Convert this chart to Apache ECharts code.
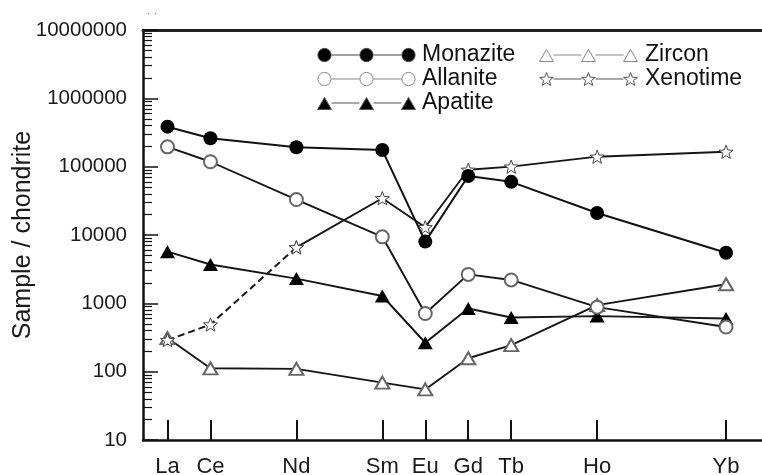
<!DOCTYPE html>
<html>
<head>
<meta charset="utf-8">
<script src="https://cdn.jsdelivr.net/npm/echarts@6/dist/echarts.min.js"></script>
<style>
  html, body { margin: 0; padding: 0; background: #fff; }
  #chart { width: 762px; height: 475px; }
</style>
</head>
<body>
<div id="chart"></div>
<script>
// ---- Data ----
const elements = ['La', 'Ce', 'Nd', 'Sm', 'Eu', 'Gd', 'Tb', 'Ho', 'Yb'];
const atomicNumbers = [57, 58, 60, 62, 63, 64, 65, 67, 70];
const yTickValues = [10, 100, 1000, 10000, 100000, 1000000, 10000000];

const monazite = [385000, 260000, 192000, 175000, 8000, 73000, 60000, 21000, 5500];
const allanite = [195000, 118000, 33000, 9400, 710, 2650, 2200, 880, 450];
const apatite  = [5700, 3700, 2300, 1280, 265, 840, 620, 650, 600];
const zircon   = [310, 112, 110, 69, 55, 157, 245, 940, 1900];
const xenotime = [290, 490, 6600, 34500, 13000, 90000, 100000, 140000, 165000];
// Xenotime is drawn dashed from La to Nd, solid from Nd onwards
const xenotimeDashEnd = 3;   // La, Ce, Nd
const xenotimeSolidStart = 2; // from Nd

const FONT = 'Liberation Sans, Arial, Helvetica, sans-serif';

function pairs(values, from, to) {
  const out = [];
  for (let i = from; i < to; i++) out.push([atomicNumbers[i], values[i]]);
  return out;
}

const zToName = {};
atomicNumbers.forEach((z, i) => { zToName[z] = elements[i]; });

// minor ticks for log axis (2..9 within each decade), expressed in log10 units
const minorTickLogs = [];
for (let n = 1; n < 7; n++) {
  for (let k = 2; k <= 9; k++) minorTickLogs.push(n + Math.log10(k));
}

// ---- symbol / legend path helpers ----
function circlePath(cx, cy, r) {
  return `M${cx - r} ${cy}A${r} ${r} 0 1 1 ${cx + r} ${cy}A${r} ${r} 0 1 1 ${cx - r} ${cy}Z`;
}
function trianglePath(cx, cy, w, h) {
  return `M${cx} ${cy - h / 2}L${cx + w / 2} ${cy + h / 2}L${cx - w / 2} ${cy + h / 2}Z`;
}
function starPath(cx, cy, R) {
  const r = R * 0.42;
  let d = '';
  for (let i = 0; i < 10; i++) {
    const a = (-90 + i * 36) * Math.PI / 180;
    const rr = i % 2 === 0 ? R : r;
    const x = (cx + rr * Math.cos(a)).toFixed(3);
    const y = (cy + rr * Math.sin(a)).toFixed(3);
    d += (i === 0 ? 'M' : 'L') + x + ' ' + y;
  }
  return d + 'Z';
}
const STAR_SYMBOL = 'path://' + starPath(10, 10, 10);

function legendIcon(kind) {
  const cxs = [7, 49, 91];
  const cy = 7, s = 14;
  let d = 'M0 0M98 14';
  cxs.forEach((cx) => {
    if (kind === 'circle') d += circlePath(cx, cy, 6.6);
    else if (kind === 'triangle') d += trianglePath(cx, cy + 0.5, 14, 12);
    else if (kind === 'star') {
      const R = 7.2;
      d += starPath(cx, cy + 0.09 * R, R);
    }
  });
  for (let i = 0; i < 2; i++) {
    d += `M${cxs[i] + s / 2} ${cy}L${cxs[i + 1] - s / 2} ${cy}`;
  }
  return 'path://' + d;
}

const chart = echarts.init(document.getElementById('chart'), null, { renderer: 'canvas' });

const lineBase = { color: '#151515', width: 1.9 };

const option = {
  animation: false,
  backgroundColor: '#fff',
  title: {
    text: '\u02D9 \u02D9',
    left: 142, top: 8,
    textStyle: { fontSize: 12, color: '#777', fontWeight: 'normal', fontFamily: FONT }
  },
  grid: { left: 143, right: -7, top: 30, bottom: 35, containLabel: false, outerBoundsMode: 'none' },
  legend: [
    {
      orient: 'vertical', left: 317, top: 43, padding: 0, itemGap: 0,
      itemWidth: 101, itemHeight: 14, selectedMode: false,
      textStyle: { fontSize: 23, lineHeight: 24, color: '#111', fontFamily: FONT },
      data: [
        { name: 'Monazite', icon: legendIcon('circle'), itemStyle: { color: '#000', borderColor: '#444', borderWidth: 1 } },
        { name: 'Allanite', icon: legendIcon('circle'), itemStyle: { color: '#fff', borderColor: '#888', borderWidth: 1 } },
        { name: 'Apatite', icon: legendIcon('triangle'), itemStyle: { color: '#000', borderColor: '#555', borderWidth: 1 } }
      ]
    },
    {
      orient: 'vertical', left: 539, top: 43, padding: 0, itemGap: 0,
      itemWidth: 103, itemHeight: 14, selectedMode: false,
      textStyle: { fontSize: 23, lineHeight: 24, color: '#111', fontFamily: FONT },
      data: [
        { name: 'Zircon', icon: legendIcon('triangle'), itemStyle: { color: '#fff', borderColor: '#888', borderWidth: 1 } },
        { name: 'Xenotime', icon: legendIcon('star'), itemStyle: { color: '#fff', borderColor: '#555', borderWidth: 1 } }
      ]
    }
  ],
  xAxis: [
    {
      type: 'value', min: 56.43, max: 71, position: 'bottom',
      axisLine: { onZero: false, lineStyle: { color: '#111', width: 2.5 } },
      axisTick: { inside: true, length: 20, customValues: atomicNumbers, lineStyle: { color: '#111', width: 2 } },
      axisLabel: {
        customValues: atomicNumbers, margin: 16, fontSize: 22, color: '#1a1a1a', fontFamily: FONT,
        formatter: (v) => zToName[Math.round(v)] || ''
      },
      splitLine: { show: false }
    },
    {
      type: 'value', min: 56.43, max: 71, position: 'top',
      axisLine: { onZero: false, lineStyle: { color: '#222', width: 3 } },
      axisTick: { show: false }, axisLabel: { show: false }, splitLine: { show: false }
    }
  ],
  yAxis: [
    {
      type: 'log', logBase: 10, min: 10, max: 10000000, position: 'left',
      name: 'Sample / chondrite', nameLocation: 'middle', nameRotate: 90, nameGap: 107,
      nameMoveOverlap: false,
      nameTextStyle: { fontSize: 25, color: '#1a1a1a', fontFamily: FONT },
      axisLine: { onZero: false, lineStyle: { color: '#111', width: 2.5 } },
      axisTick: { inside: true, length: 15, customValues: yTickValues, lineStyle: { color: '#111', width: 1.5 } },
      axisLabel: {
        customValues: yTickValues, margin: 16, fontSize: 20.5, color: '#1a1a1a', fontFamily: FONT,
        formatter: (v) => String(Math.round(v))
      },
      splitLine: { show: false }
    },
    {
      type: 'value', min: 1, max: 7, position: 'left',
      axisLine: { show: false },
      axisTick: { inside: true, length: 9, customValues: minorTickLogs, lineStyle: { color: '#111', width: 1.2 } },
      axisLabel: { show: false }, splitLine: { show: false }
    }
  ],
  series: [
    {
      name: 'Zircon', type: 'line', data: pairs(zircon, 0, 9),
      symbol: 'emptyTriangle', symbolSize: [14, 12],
      itemStyle: { color: '#666', borderWidth: 1.2 },
      lineStyle: lineBase, z: 2
    },
    {
      name: 'Apatite', type: 'line', data: pairs(apatite, 0, 9),
      symbol: 'triangle', symbolSize: [15, 13],
      itemStyle: { color: '#000' },
      lineStyle: lineBase, z: 3
    },
    {
      name: 'Allanite', type: 'line', data: pairs(allanite, 0, 9),
      symbol: 'emptyCircle', symbolSize: 13,
      itemStyle: { color: '#666', borderWidth: 1.2 },
      lineStyle: lineBase, z: 4
    },
    {
      name: 'Xenotime-dash', type: 'line', data: pairs(xenotime, 0, xenotimeDashEnd),
      symbol: STAR_SYMBOL, symbolSize: 14, symbolKeepAspect: true,
      itemStyle: { color: '#fff', borderColor: '#444', borderWidth: 1 },
      lineStyle: { color: '#1a1a1a', width: 2, type: [7, 4] }, z: 5
    },
    {
      name: 'Xenotime', type: 'line', data: pairs(xenotime, xenotimeSolidStart, 9),
      symbol: STAR_SYMBOL, symbolSize: 14, symbolKeepAspect: true,
      itemStyle: { color: '#fff', borderColor: '#444', borderWidth: 1 },
      lineStyle: lineBase, z: 5
    },
    {
      name: 'Monazite', type: 'line', data: pairs(monazite, 0, 9),
      symbol: 'circle', symbolSize: 14,
      itemStyle: { color: '#000' },
      lineStyle: { color: '#111', width: 2 }, z: 6
    }
  ]
};

chart.setOption(option);
</script>
</body>
</html>
